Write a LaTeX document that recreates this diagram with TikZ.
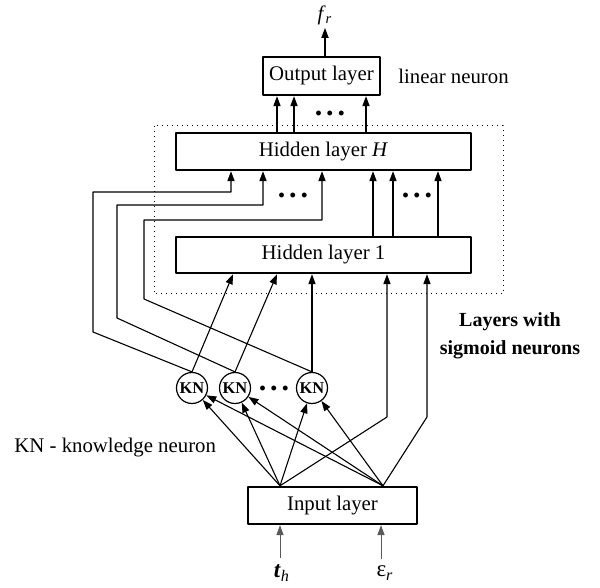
\documentclass[tikz,border=0pt]{standalone}
\usepackage{fontspec}
\setmainfont{Liberation Serif}
\usetikzlibrary{arrows.meta}

\begin{document}
\begin{tikzpicture}[
    x=0.5pt, y=-0.5pt,
    line join=round,
    layerbox/.style={draw, line width=1.2pt, inner sep=0pt, font=\fontsize{10.4}{12}\selectfont},
    kncirc/.style={draw, circle, line width=0.6pt, minimum size=15.5pt, inner sep=0pt, font=\fontsize{8.2}{9}\selectfont\bfseries},
    conn/.style={line width=0.55pt, -{Triangle[length=5pt,width=3.6pt]}},
    feed/.style={gray!70!black, line width=0.4pt, -{Triangle[length=5pt,width=3.6pt]}},
    dotsC/.style={font=\fontsize{15}{15}\selectfont\bfseries, inner sep=0pt},
    lbl/.style={font=\fontsize{10.4}{13}\selectfont, inner sep=1.5pt},
    frame/.style={dotted, line width=0.5pt},
  ]
  \useasboundingbox (0,0) rectangle (600,588);

  % ---------- layers ----------
  \node[layerbox, minimum width=58.5pt, minimum height=19pt]   (outL) at (321.5,76)  {Output layer};
  \node[layerbox, minimum width=147.5pt, minimum height=18.5pt] (hidH) at (323.5,151.5) {Hidden layer \textit{H}};
  \node[layerbox, minimum width=147.5pt, minimum height=18pt]   (hid1) at (323.5,255) {Hidden layer 1};
  \node[layerbox, minimum width=84.5pt, minimum height=18.5pt]  (inL)  at (332.5,505.5) {Input layer};

  % sigmoid layers frame
  \draw[frame] (154,126) rectangle (503,294);

  % ---------- knowledge neurons ----------
  \node[kncirc] (kn1) at (192,388) {KN};
  \node[kncirc] (kn2) at (235,388) {KN};
  \node[kncirc] (kn3) at (312,388) {KN};

  % ---------- inputs and output ----------
  \node[lbl] (fr) at (325,15) {\textit{f}\textsubscript{\textit{r}}};
  \draw[conn] (outL.north -| fr.south) -- (fr.south);
  \node[lbl, inner sep=3pt, font=\fontsize{11.5}{13}\selectfont] (th) at (282,573) {\textbf{\textit{t}}\textsubscript{\textit{h}}};
  \node[lbl, inner sep=3pt, font=\fontsize{11.5}{13}\selectfont] (er) at (385,573) {ε\textsubscript{\textit{r}}};
  \draw[feed] ([xshift=-1pt]th.north) -- ([xshift=-1pt]th.north |- inL.south);
  \draw[feed] ([xshift=-2pt]er.north) -- ([xshift=-2pt]er.north |- inL.south);

  % input layer -> KN and hidden layer 1
  \coordinate (in1) at (280,0 |- inL.north);
  \coordinate (in2) at (383,0 |- inL.north);
  \foreach \k in {kn1,kn2,kn3} {
    \draw[conn] (in1) -- (\k);
    \draw[conn] (in2) -- (\k);
  }
  \draw[conn] (in1) -- (387,417) -- (387,0 |- hid1.south);
  \draw[conn] (in2) -- (427,417) -- (427,0 |- hid1.south);

  % KN -> hidden layer 1
  \draw[conn] (kn1.north) -- (233,0 |- hid1.south);
  \draw[conn] (kn2.north) -- (277,0 |- hid1.south);
  \draw[conn] (kn3.north) -- (kn3.north |- hid1.south);

  % KN -> hidden layer H (routed round the left side)
  \draw[conn] (kn1.north) -- (93,332)  |- (231,192) -- (231,0 |- hidH.south);
  \draw[conn] (kn2.north) -- (117,318) |- (263,205) -- (263,0 |- hidH.south);
  \draw[conn] (kn3.north) -- (144,299) |- (322,220) -- (322,0 |- hidH.south);

  % hidden layer 1 -> hidden layer H -> output
  \foreach \xx in {373,393,438}
    \draw[conn] (\xx,0 |- hid1.north) -- (\xx,0 |- hidH.south);
  \foreach \xx in {277,294,366}
    \draw[conn] (\xx,0 |- hidH.north) -- (\xx,0 |- outL.south);

  % ---------- dots ----------
  \node[dotsC] (dotO)  at (330,113) {.\kern2pt.\kern2pt.};
  \node[dotsC] (dotHa) at (293,195) {.\kern2pt.\kern2pt.};
  \node[dotsC] (dotHb) at (417,195) {.\kern2pt.\kern2pt.};
  \node[dotsC] (dotK)  at (274,388) {.\kern2pt.\kern2pt.};

  % ---------- labels ----------
  \node[lbl, anchor=west, inner sep=0pt] (linN) at (398,76) {linear neuron};
  \node[lbl, anchor=west, inner sep=0pt] (knN) at (14,448) {KN - knowledge neuron};
  \node[lbl, align=center, font=\fontsize{10}{14}\selectfont\bfseries] (sigN) at (510,336) {Layers with\\sigmoid neurons};

\end{tikzpicture}
\end{document}
